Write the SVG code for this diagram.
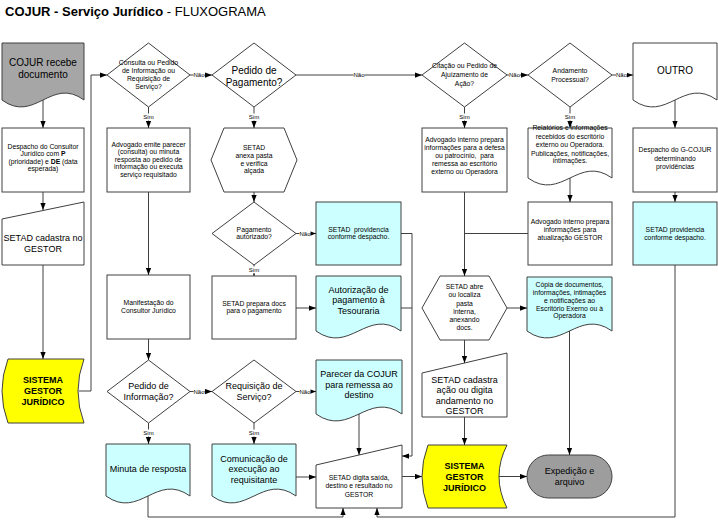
<svg xmlns="http://www.w3.org/2000/svg" width="718" height="521" viewBox="0 0 718 521">
<defs>
<marker id="ah" markerUnits="userSpaceOnUse" viewBox="0 0 8 6" refX="8" refY="3" markerWidth="7" markerHeight="6" orient="auto"><path d="M0,0 L8,3 L0,6 Z" fill="#000"/></marker>
<style>
.sh{stroke:#404040;stroke-width:1}
.w{fill:#fff}.c{fill:#ccffff}.y{fill:#ffff00}.g{fill:#a6a6a6}.g2{fill:#9d9d9d}
text{font-family:"Liberation Sans",Arial,sans-serif;text-anchor:middle;fill:#000}
.s{font-size:6.8px}.m{font-size:9px}.l{font-size:10px}.b{font-weight:bold}
.ln{fill:none;stroke:#404040;stroke-width:1}
.ar{marker-end:url(#ah)}
.lb{font-size:6px}
.bg{fill:#fff}
.pre{white-space:pre}
</style>
</defs>
<rect x="0" y="0" width="718" height="521" fill="#fff"/>
<text x="5" y="16" style="font-size:13px;text-anchor:start"><tspan font-weight="bold">COJUR - Serviço Jurídico</tspan> - FLUXOGRAMA</text>

<g id="n_recebe"><path class="sh g" d="M2,43 H84 V100 C51.2,76 34.8,124 2,100 Z"/><text class="l" x="43" y="66">COJUR recebe</text><text class="l" x="43" y="78">documento</text></g>
<g id="n_despacho"><rect class="sh w" x="2" y="128" width="82" height="64"/><text class="s" x="43" y="148.5">Despacho do Consultor</text><text class="s" x="43" y="156">Jurídico com <tspan class="b">P</tspan></text><text class="s" x="43" y="163.5">(prioridade) e <tspan class="b">DE</tspan> (data</text><text class="s" x="43" y="171">esperada)</text></g>
<g id="n_cadastra1"><polygon class="sh w" points="2,219 84,202 84,265 2,265"/><text class="m" x="43" y="241">SETAD cadastra no</text><text class="m" x="43" y="252">GESTOR</text></g>
<g id="n_sistema1"><path class="sh y" d="M8,359 H84 Q72,391 84,423 H8 Q-4,391 8,359 Z"/><text class="m b" x="43" y="383">SISTEMA</text><text class="m b" x="43" y="394">GESTOR</text><text class="m b" x="43" y="405">JURÍDICO</text></g>

<g id="n_consulta"><polygon class="sh w" points="148.5,43 190,75 148.5,107 107,75"/><text class="s" x="148.5" y="65">Consulta ou Pedido</text><text class="s" x="148.5" y="73">de Informação ou</text><text class="s" x="148.5" y="81">Requisição de</text><text class="s" x="148.5" y="89">Serviço?</text></g>
<g id="n_parecer"><rect class="sh w" x="107" y="128" width="83" height="64"/><text class="s" x="148.5" y="146.5">Advogado emite parecer</text><text class="s" x="148.5" y="154">(consulta) ou minuta</text><text class="s" x="148.5" y="161.5">resposta ao pedido de</text><text class="s" x="148.5" y="169">informação ou executa</text><text class="s" x="148.5" y="176.5">serviço requisitado</text></g>
<g id="n_manifest"><rect class="sh w" x="107" y="275" width="83" height="64"/><text class="s" x="148.5" y="305">Manifestação do</text><text class="s" x="148.5" y="313">Consultor Jurídico</text></g>
<g id="n_pedinfo"><polygon class="sh w" points="148.5,360 190,391.5 148.5,423 107,391.5"/><text class="m" x="148.5" y="389">Pedido de</text><text class="m" x="148.5" y="400">Informação?</text></g>
<g id="n_minuta"><path class="sh c" d="M106,444 H190 V496 C156.4,472 139.6,520 106,496 Z"/><text class="m" x="148" y="472">Minuta de resposta</text></g>

<g id="n_pedpag"><polygon class="sh w" points="254,43 296,75 254,107 212,75"/><text class="l" x="254" y="74">Pedido de</text><text class="l" x="254" y="86">Pagamento?</text></g>
<g id="n_anexa"><polygon class="sh w" points="211,160 224,128 284,128 297,160 284,192 224,192"/><text class="s" x="254" y="149.7">SETAD</text><text class="s" x="254" y="157.7">anexa pasta</text><text class="s" x="254" y="165.7">e verifica</text><text class="s" x="254" y="173.4">alçada</text></g>
<g id="n_pagaut"><polygon class="sh w" points="254,202 296,233.5 254,265 212,233.5"/><text class="s" x="254" y="231.7">Pagamento</text><text class="s" x="254" y="239">autorizado?</text></g>
<g id="n_prepara"><rect class="sh w" x="212" y="276" width="84" height="63"/><text class="s" x="254" y="305.7">SETAD prepara docs</text><text class="s" x="254" y="313.4">para o pagamento</text></g>
<g id="n_requis"><polygon class="sh w" points="254,360 296,391.5 254,423 212,391.5"/><text class="m" x="254" y="389">Requisição de</text><text class="m" x="254" y="400">Serviço?</text></g>
<g id="n_comunic"><path class="sh c" d="M212,444 H296 V496 C262.4,472 245.6,520 212,496 Z"/><text class="m" x="254" y="461.5">Comunicação de</text><text class="m" x="254" y="472">execução ao</text><text class="m" x="254" y="482.5">requisitante</text></g>

<g id="n_prov1"><rect class="sh c" x="316" y="202" width="85" height="63"/><text class="s pre" x="358.5" y="231.7">SETAD  providencia</text><text class="s" x="358.5" y="239">conforme despacho.</text></g>
<g id="n_autoriz"><path class="sh c" d="M316,276 H401 V331 C367,307 350,355 316,331 Z"/><text class="m" x="358.5" y="292.5">Autorização de</text><text class="m" x="358.5" y="303">pagamento à</text><text class="m" x="358.5" y="314">Tesouraria</text></g>
<g id="n_parecercojur"><path class="sh c" d="M316,360 H402 V414 C367.6,390 350.4,438 316,414 Z"/><text class="m" x="359" y="376.5">Parecer da COJUR</text><text class="m" x="359" y="387.5">para remessa ao</text><text class="m" x="359" y="398">destino</text></g>
<g id="n_digita"><polygon class="sh w" points="316,465 402,445 402,508 316,508"/><text class="s" x="359" y="480">SETAD digita saída,</text><text class="s" x="359" y="488.4">destino e resultado no</text><text class="s" x="359" y="496.7">GESTOR</text></g>

<g id="n_citacao"><polygon class="sh w" points="464.5,43 507,75 464.5,107 422,75"/><text class="s" x="464.5" y="67.5">Citação ou Pedido de</text><text class="s" x="464.5" y="76.5">Ajuizamento de</text><text class="s" x="464.5" y="85.5">Ação?</text></g>
<g id="n_advint"><rect class="sh w" x="422" y="128" width="85" height="64"/><text class="s" x="464.5" y="141.7">Advogado interno prepara</text><text class="s" x="464.5" y="149.7">informações para a defesa</text><text class="s pre" x="464.5" y="157.7">ou patrocínio,  para</text><text class="s" x="464.5" y="166">remessa ao escritório</text><text class="s" x="464.5" y="174">externo ou Operadora</text></g>
<g id="n_abre"><polygon class="sh w" points="422,308 440,276 489,276 507,308 489,340 440,340"/><text class="s" x="464.5" y="289">SETAD abre</text><text class="s" x="464.5" y="297.4">ou localiza</text><text class="s" x="464.5" y="305.7">pasta</text><text class="s" x="464.5" y="314">interna,</text><text class="s" x="464.5" y="322.4">anexando</text><text class="s" x="464.5" y="330">docs.</text></g>
<g id="n_cadastra2"><polygon class="sh w" points="422,373 507,353 507,417 422,417"/><text class="m" x="464.5" y="382.5">SETAD cadastra</text><text class="m" x="464.5" y="393">ação ou digita</text><text class="m" x="464.5" y="403.5">andamento no</text><text class="m" x="464.5" y="414">GESTOR</text></g>
<g id="n_sistema2"><path class="sh y" d="M428,445 H507 Q491,476.5 507,508 H428 Q416,476.5 428,445 Z"/><text class="m b" x="464.5" y="468.5">SISTEMA</text><text class="m b" x="464.5" y="479.5">GESTOR</text><text class="m b" x="464.5" y="490.5">JURÍDICO</text></g>

<g id="n_andamento"><polygon class="sh w" points="570,43 612,75 570,107 528,75"/><text class="s" x="570" y="73">Andamento</text><text class="s" x="570" y="82">Processual?</text></g>
<g id="n_relatorios"><path class="sh w" d="M528,128 H612 V178 C578.4,154 561.6,202 528,178 Z"/><text class="s" x="570" y="130">Relatórios e informações</text><text class="s" x="570" y="138.5">recebidos do escritório</text><text class="s" x="570" y="147">externo ou Operadora.</text><text class="s" x="570" y="155.5">Publicações, notificações,</text><text class="s" x="570" y="162.5">intimações.</text></g>
<g id="n_advatual"><rect class="sh w" x="528" y="202" width="84" height="63"/><text class="s" x="570" y="224">Advogado interno prepara</text><text class="s" x="570" y="231.7">informações para</text><text class="s" x="570" y="239.7">atualização GESTOR</text></g>
<g id="n_copia"><path class="sh c" d="M527,277 H612 V331 C578,307 561,355 527,331 Z"/><text class="s" x="569.5" y="287.4">Cópia de documentos,</text><text class="s" x="569.5" y="295">informações, intimações</text><text class="s" x="569.5" y="303">e notificações ao</text><text class="s" x="569.5" y="310.7">Escritório Exerno ou à</text><text class="s" x="569.5" y="318.4">Operadora</text></g>
<g id="n_expedicao"><rect class="sh g2" x="527" y="455" width="85" height="43" rx="21.5"/><text class="m" x="569.5" y="474">Expedição e</text><text class="m" x="569.5" y="485">arquivo</text></g>

<g id="n_outro"><path class="sh w" d="M633,43 H717 V100 C683.4,76 666.6,124 633,100 Z"/><text class="l" x="675" y="73.5">OUTRO</text></g>
<g id="n_gcojur"><rect class="sh w" x="633" y="128" width="84" height="64"/><text class="s" x="675" y="152.4">Despacho do G-COJUR</text><text class="s" x="675" y="160.7">determinando</text><text class="s" x="675" y="169">providências</text></g>
<g id="n_prov2"><rect class="sh c" x="633" y="202" width="84" height="63"/><text class="s" x="675" y="232.4">SETAD providencia</text><text class="s" x="675" y="240">conforme despacho.</text></g>

<g id="connectors">
<path class="ln ar" d="M43,100 V128"/>
<path class="ln ar" d="M43,192 V210"/>
<path class="ln ar" d="M43,265 V359"/>
<path class="ln ar" d="M79,391 H91 V75 H107"/>
<path class="ln ar" d="M190,75 H212"/>
<path class="ln ar" d="M148.5,107 V128"/>
<path class="ln ar" d="M148.5,192 V275"/>
<path class="ln ar" d="M148.5,339 V360"/>
<path class="ln ar" d="M190,391.5 H212"/>
<path class="ln ar" d="M148.5,423 V444"/>
<path class="ln ar" d="M148,496 V517 H343 V508"/>
<path class="ln ar" d="M296,75 H422"/>
<path class="ln ar" d="M254,107 V128"/>
<path class="ln ar" d="M254,192 V202"/>
<path class="ln ar" d="M296,233.5 H316"/>
<path class="ln ar" d="M254,265 V276"/>
<path class="ln ar" d="M296,308 H316"/>
<path class="ln ar" d="M296,391.5 H316"/>
<path class="ln ar" d="M254,423 V444"/>
<path class="ln ar" d="M296,477 H316"/>
<path class="ln ar" d="M401,233.5 H412 V456 H402"/>
<path class="ln" d="M401,308 H412"/>
<path class="ln ar" d="M359,414 V455"/>
<path class="ln ar" d="M402,476.5 H422"/>
<path class="ln ar" d="M464.5,107 V128"/>
<path class="ln ar" d="M464.5,192 V276"/>
<path class="ln" d="M528,233.5 H464.5"/>
<path class="ln ar" d="M507,308 H527"/>
<path class="ln ar" d="M464.5,340 V363"/>
<path class="ln ar" d="M464.5,417 V445"/>
<path class="ln ar" d="M499,476.5 H527"/>
<path class="ln ar" d="M507,75 H528"/>
<path class="ln ar" d="M570,107 V128"/>
<path class="ln ar" d="M570,178 V202"/>
<path class="ln ar" d="M569.5,331 V455"/>
<path class="ln ar" d="M612,75 H633"/>
<path class="ln ar" d="M675,100 V128"/>
<path class="ln ar" d="M675,192 V202"/>
<path class="ln ar" d="M675,265 V517 H377 V508"/>
<g id="labels">
<rect class="bg" x="193.5" y="72" width="11" height="6"/><text class="lb" x="199" y="77.2">Não</text>
<rect class="bg" x="353.5" y="72" width="11" height="6"/><text class="lb" x="359" y="77.2">Não</text>
<rect class="bg" x="509" y="72" width="11" height="6"/><text class="lb" x="514.5" y="77.2">Não</text>
<rect class="bg" x="616" y="72" width="11" height="6"/><text class="lb" x="621.5" y="77.2">Não</text>
<rect class="bg" x="299.5" y="230.5" width="11" height="6"/><text class="lb" x="305" y="235.7">Não</text>
<rect class="bg" x="193.5" y="388.5" width="11" height="6"/><text class="lb" x="199" y="393.7">Não</text>
<rect class="bg" x="299.5" y="388.5" width="11" height="6"/><text class="lb" x="305" y="393.7">Não</text>
<rect class="bg" x="143" y="113.5" width="11" height="7"/><text class="lb" x="148.5" y="119.2">Sim</text>
<rect class="bg" x="248.5" y="113.5" width="11" height="7"/><text class="lb" x="254" y="119.2">Sim</text>
<rect class="bg" x="459" y="113.5" width="11" height="7"/><text class="lb" x="464.5" y="119.2">Sim</text>
<rect class="bg" x="564.5" y="113.5" width="11" height="7"/><text class="lb" x="570" y="119.2">Sim</text>
<rect class="bg" x="248.5" y="266.5" width="11" height="7"/><text class="lb" x="254" y="272.2">Sim</text>
<rect class="bg" x="143" y="429.5" width="11" height="7"/><text class="lb" x="148.5" y="435.2">Sim</text>
<rect class="bg" x="248.5" y="429.5" width="11" height="7"/><text class="lb" x="254" y="435.2">Sim</text>
</g>
</g>
</svg>
